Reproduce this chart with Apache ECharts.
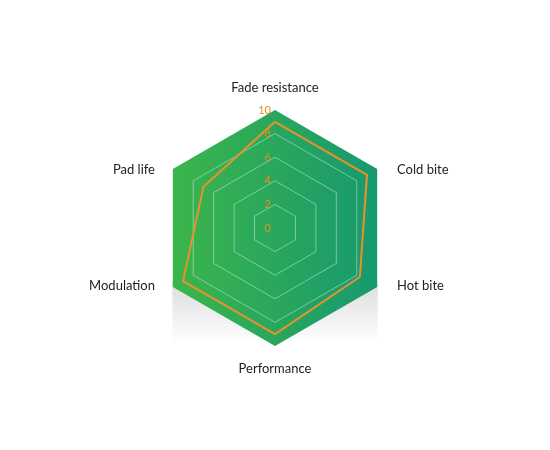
<!DOCTYPE html>
<html>
<head>
<meta charset="utf-8">
<script src="https://cdn.jsdelivr.net/npm/echarts@6/dist/echarts.min.js"></script>
<style>html,body{margin:0;padding:0;background:#fff}#c{width:550px;height:450px}</style>
</head>
<body>
<div id="c"></div>
<script>
// Reference order, clockwise from top
var indicators = ['Fade resistance', 'Cold bite', 'Hot bite', 'Performance', 'Modulation', 'Pad life'];
var maxValue = 10;
var values = [9, 9, 8.3, 9, 9, 7];

// ECharts draws radar indicators counter-clockwise; reorder so they appear clockwise
var order = [0, 5, 4, 3, 2, 1];
// names at the side vertices sit level with the vertex: shift via an empty line
var upperSide = { 'Cold bite': 1, 'Pad life': 1 };
var lowerSide = { 'Hot bite': 1, 'Modulation': 1 };
var namePads = {
  'Fade resistance': [0, 0, 0, 0],
  'Cold bite': [0, 0, 0, 6],
  'Hot bite': [0, 0, 0, 6],
  'Performance': [0, 0, 0, 0],
  'Modulation': [0, 4, 0, 0],
  'Pad life': [0, 4, 0, 0]
};

var chart = echarts.init(document.getElementById('c'));
var cx = 275, cy = 228, R = 118;
chart.setOption({
  backgroundColor: '#fff',
  graphic: [{
    type: 'rect',
    z: -10,
    shape: { x: cx - R * 0.87, y: cy + 54, width: R * 1.74, height: 62 },
    style: {
      fill: new echarts.graphic.LinearGradient(0, 0, 0, 1, [
        { offset: 0, color: 'rgba(0,0,0,0.13)' },
        { offset: 0.55, color: 'rgba(0,0,0,0.06)' },
        { offset: 1, color: 'rgba(0,0,0,0)' }
      ]),
      shadowBlur: 8,
      shadowColor: 'rgba(0,0,0,0.06)'
    }
  }],
  radar: {
    center: [cx, cy],
    radius: R,
    startAngle: 90,
    shape: 'polygon',
    splitNumber: 5,
    nameGap: 16,
    axisName: {
      color: '#222', fontSize: 13, fontFamily: 'Lato', lineHeight: 18,
      formatter: function (name) {
        if (upperSide[name]) return '\n' + name;
        if (lowerSide[name]) return name + '\n';
        return name;
      }
    },
    indicator: order.map(function (k, i) {
      var n = indicators[k];
      var st = { padding: namePads[n] };
      if (!upperSide[n] && !lowerSide[n]) st.lineHeight = 13;
      var o = { name: n, max: maxValue, min: 0, nameTextStyle: st };
      if (i === 0) o.axisLabel = { show: true };
      return o;
    }),
    axisLine: { show: false },
    axisTick: { show: false },
    axisLabel: { show: false, color: '#f08a24', fontSize: 11, fontFamily: 'Lato', margin: 4 },
    splitLine: {
      lineStyle: {
        color: ['rgba(255,255,255,0.5)', 'rgba(255,255,255,0.5)', 'rgba(255,255,255,0.5)',
                'rgba(255,255,255,0.5)', 'rgba(255,255,255,0.5)', 'rgba(255,255,255,0)'],
        width: 0.8
      }
    },
    splitArea: {
      show: true,
      areaStyle: {
        color: [new echarts.graphic.LinearGradient(0, 0, 1, 0, [
          { offset: 0, color: '#3bb54b' },
          { offset: 1, color: '#17996f' }
        ], false)]
      }
    }
  },
  series: [{
    type: 'radar',
    symbol: 'none',
    lineStyle: { color: '#e8922c', width: 2 },
    data: [{ value: order.map(function (k) { return values[k]; }), name: 'Rating' }]
  }]
});
</script>
</body>
</html>
